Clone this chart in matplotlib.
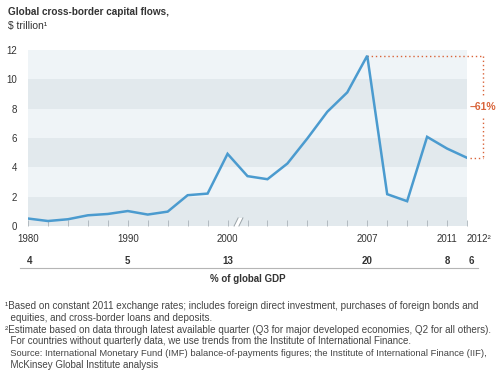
import matplotlib
matplotlib.use("Agg")
import matplotlib.pyplot as plt
import matplotlib.transforms as mtransforms
from matplotlib.patches import Polygon

plt.rcParams['font.family'] = ['Liberation Sans', 'DejaVu Sans']

# ---- data ----
years = [1980, 1982, 1984, 1986, 1988, 1990, 1992, 1994, 1996, 1998, 2000,
         2001, 2002, 2003, 2004, 2005, 2006, 2007, 2008, 2009, 2010, 2011, 2012]
flows = [0.51, 0.34, 0.46, 0.73, 0.82, 1.02, 0.78, 0.98, 2.10, 2.21, 4.92,
         3.40, 3.19, 4.26, 5.97, 7.79, 9.11, 11.61, 2.17, 1.69, 6.08, 5.28, 4.65]
label_years = [1980, 1990, 2000, 2007, 2011, 2012]
label_texts = ['1980', '1990', '2000', '2007', '2011', '2012²']
gdp_share = ['4', '5', '13', '20', '8', '6']
yticks = [0, 2, 4, 6, 8, 10, 12]
change_text = '–61%'

W, H = 500, 377
fig = plt.figure(figsize=(W / 100, H / 100), dpi=100)

def fx(px):
    return px / W

def fy(py):
    return 1 - py / H

ax_l, ax_r, ax_t, ax_b = 28, 467, 50, 226
ax = fig.add_axes([fx(ax_l), fy(ax_b), fx(ax_r - ax_l), (ax_b - ax_t) / H])

pos = list(range(len(years)))
ax.set_xlim(0, len(years) - 1)
ax.set_ylim(0, 12)

light = '#eff4f7'
dark = '#e2e9ed'
for i in range(6):
    ax.axhspan(2 * i, 2 * i + 2, color=dark if i % 2 == 0 else light, lw=0, zorder=0)

ax.plot(pos, flows, color='#4b9bcf', lw=1.8, zorder=3, solid_joinstyle='miter')

for s in ax.spines.values():
    s.set_visible(False)

txt = '#333333'
ax.set_yticks(yticks)
ax.set_yticklabels([str(v) for v in yticks], fontsize=7, color=txt)
ax.tick_params(axis='y', length=0, pad=8)

ax.set_xticks(pos)
lab_map = dict(zip(label_years, label_texts))
ax.set_xticklabels([lab_map.get(y, '') for y in years], fontsize=7, color=txt)
ax.tick_params(axis='x', direction='in', length=4, width=0.6, color='#aab3b9', pad=6)
for t in ax.get_xticklabels():
    if t.get_text().startswith('2012'):
        t.set_ha('left')

# break symbol between 2000 and 2001
bx = years.index(2000) + 0.55
poly = Polygon([[bx - 0.22, 0.0], [bx + 0.02, 0.0], [bx + 0.22, 0.55], [bx - 0.02, 0.55]],
               closed=True, fc='white', ec='none', zorder=4, clip_on=False)
ax.add_patch(poly)
ax.plot([bx - 0.22, bx - 0.02], [0.0, 0.55], color='#9aa3a8', lw=0.7, zorder=5, clip_on=False)
ax.plot([bx + 0.02, bx + 0.22], [0.0, 0.55], color='#9aa3a8', lw=0.7, zorder=5, clip_on=False)

# -61% annotation
orange = '#d9643a'
peak_i = flows.index(max(flows))
last_i = len(flows) - 1
xr = last_i + 0.8
ax.plot([peak_i, xr], [flows[peak_i], flows[peak_i]], ls=(0, (1, 2)), color=orange, lw=1, clip_on=False)
ax.plot([last_i + 0.15, xr], [flows[last_i], flows[last_i]], ls=(0, (1, 2)), color=orange, lw=1, clip_on=False)
mid = (flows[peak_i] + flows[last_i]) / 2
ax.plot([xr, xr], [flows[peak_i], mid + 0.75], ls=(0, (1, 2)), color=orange, lw=1, clip_on=False)
ax.plot([xr, xr], [mid - 0.75, flows[last_i]], ls=(0, (1, 2)), color=orange, lw=1, clip_on=False)
ax.text(xr, mid, change_text, color=orange, fontsize=7.5, fontweight='bold',
        ha='center', va='center', clip_on=False)

# title
fig.text(fx(8), fy(12), 'Global cross-border capital flows,', fontsize=7.2, fontweight='bold',
         color=txt, ha='left', va='center')
fig.text(fx(8), fy(26), '$ trillion¹', fontsize=7.5, color=txt, ha='left', va='center')

# GDP row
row_tf = mtransforms.blended_transform_factory(ax.transData, fig.transFigure)
for y, g in zip(label_years, gdp_share):
    i = years.index(y)
    xd = i + (0.2 if y == 2012 else 0.1 if y == 1980 else 0)
    ax.text(xd, fy(260.5), g, transform=row_tf, fontsize=7, fontweight='bold',
            color=txt, ha='center', va='center')

fig.add_artist(plt.Line2D([fx(20), fx(478)], [fy(268), fy(268)], color='#b5b5b5', lw=0.8))
fig.text(fx(248), fy(279.5), '% of global GDP', fontsize=7, fontweight='bold', color=txt,
         ha='center', va='center')

notes = [
    '¹Based on constant 2011 exchange rates; includes foreign direct investment, purchases of foreign bonds and',
    '  equities, and cross-border loans and deposits.',
    '²Estimate based on data through latest available quarter (Q3 for major developed economies, Q2 for all others).',
    '  For countries without quarterly data, we use trends from the Institute of International Finance.',
    '  Source: International Monetary Fund (IMF) balance-of-payments figures; the Institute of International Finance (IIF),',
    '  McKinsey Global Institute analysis',
]
note_sizes = [7.15, 7.15, 7.1, 7.0, 6.75, 7.0]
for k, (n, fs) in enumerate(zip(notes, note_sizes)):
    fig.text(fx(5), fy(306 + 11.8 * k), n, fontsize=fs, color='#444444', ha='left', va='center')

fig.savefig('out.png', dpi=100)
